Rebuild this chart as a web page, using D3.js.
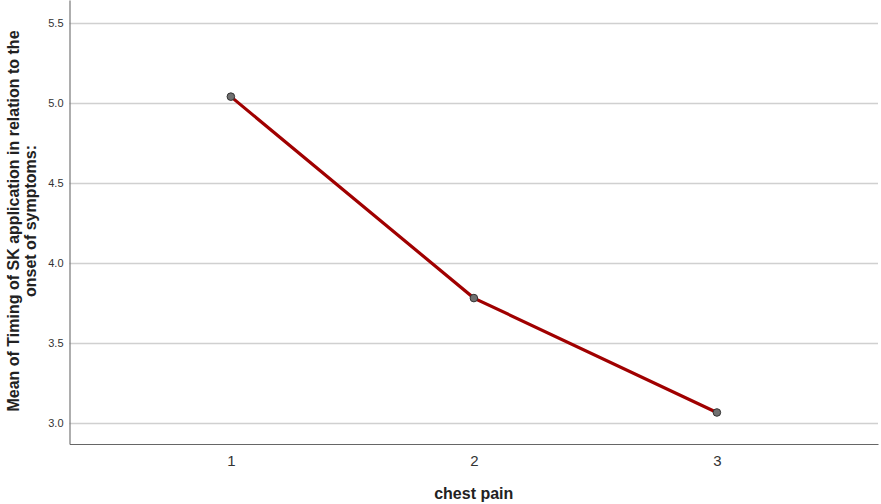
<!DOCTYPE html>
<html><head><meta charset="utf-8">
<script src="https://cdn.jsdelivr.net/npm/d3@7"></script>
<style>body{margin:0;background:#fff}svg{display:block}</style>
</head><body>
<svg id="c" width="881" height="504"></svg>
<script>
const categories = [1, 2, 3];
const means = [5.037, 3.778, 3.063];
const yTicks = [3.0, 3.5, 4.0, 4.5, 5.0, 5.5];
const xTitle = "chest pain";
const yTitle = ["Mean of Timing of SK  application in relation to the", "onset of symptoms:"];

const svg = d3.select("#c");
const L = 69.5, R = 878, T = 0, B = 444;
const x = d3.scaleLinear().domain([0.336, 3.663]).range([L, R]);
const y = d3.scaleLinear().domain([2.866, 5.641]).range([B, T]);

// gridlines
svg.append("g").selectAll("line").data(yTicks).join("line")
  .attr("x1", L).attr("x2", R)
  .attr("y1", d => Math.round(y(d)) + 0.5).attr("y2", d => Math.round(y(d)) + 0.5)
  .attr("stroke", "#d0d0d0").attr("stroke-width", 1.3);

// y axis
const ya = svg.append("g").attr("transform", `translate(${L},0)`)
  .call(d3.axisLeft(y).tickValues(yTicks).tickFormat(d3.format(".1f")).tickSize(0).tickPadding(6));
ya.select(".domain").attr("stroke", "#777").attr("stroke-width", 1.2);
ya.selectAll("text").attr("font-family", "Arial, Liberation Sans, sans-serif").attr("font-size", 11).attr("fill", "#333");

// x axis
const xa = svg.append("g").attr("transform", `translate(0,${B})`)
  .call(d3.axisBottom(x).tickValues(categories).tickFormat(d3.format("d")).tickSize(0).tickPadding(11));
xa.select(".domain").attr("stroke", "#666").attr("stroke-width", 1.2);
xa.selectAll("text").attr("font-family", "Arial, Liberation Sans, sans-serif").attr("font-size", 15).attr("fill", "#333");

// line
const pts = categories.map((c, i) => [c, means[i]]);
svg.append("path").datum(pts)
  .attr("d", d3.line().x(d => x(d[0])).y(d => y(d[1])))
  .attr("fill", "none").attr("stroke", "#a00000").attr("stroke-width", 3.2);

svg.append("g").selectAll("circle").data(pts).join("circle")
  .attr("cx", d => x(d[0])).attr("cy", d => y(d[1])).attr("r", 3.8)
  .attr("fill", "#707070").attr("stroke", "#333").attr("stroke-width", 1);

// titles
svg.append("text").attr("x", (L + R) / 2).attr("y", 499)
  .attr("text-anchor", "middle").attr("font-family", "Arial, Liberation Sans, sans-serif")
  .attr("font-weight", "bold").attr("font-size", 16).attr("fill", "#222").text(xTitle);

const yt = svg.append("text").attr("transform", "translate(19,221) rotate(-90)")
  .attr("text-anchor", "middle").attr("font-family", "Arial, Liberation Sans, sans-serif")
  .attr("font-weight", "bold").attr("font-size", 16).attr("fill", "#222");
yt.selectAll("tspan").data(yTitle).join("tspan")
  .attr("x", 0).attr("dy", (d, i) => i === 0 ? 0 : 17).text(d => d);
</script>
</body></html>
